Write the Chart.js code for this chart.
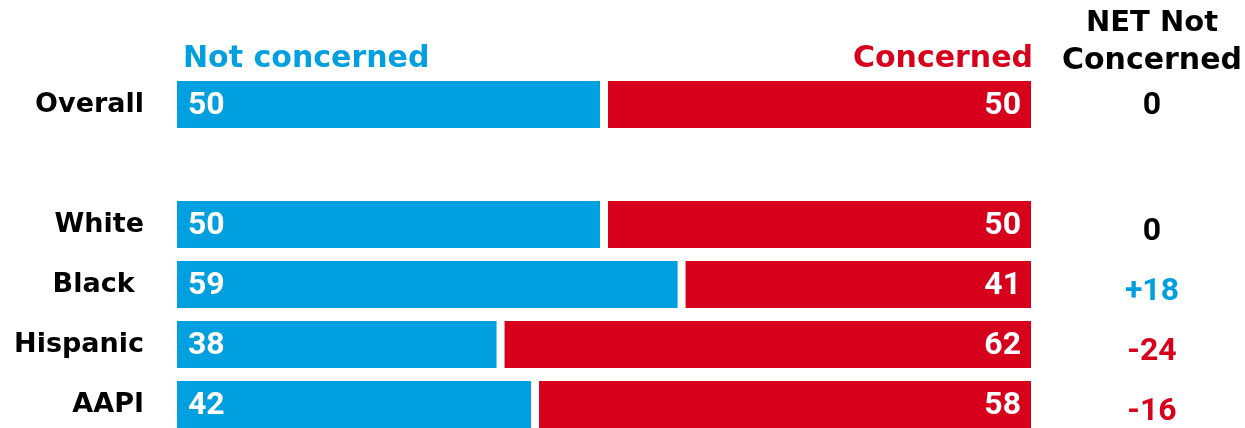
<!DOCTYPE html>
<html>
<head>
<meta charset="utf-8">
<script src="https://cdn.jsdelivr.net/npm/chart.js@4"></script>
<style>
  html, body { margin: 0; padding: 0; background: #fff; overflow: hidden; }
  canvas { display: block; }
</style>
</head>
<body>
<canvas id="chart" width="1245" height="436"></canvas>
<script>
// Survey groups (blank entry leaves a spacer row under "Overall")
const categories = ['Overall', '', 'White', 'Black ', 'Hispanic', 'AAPI'];
const notConcerned = [50, null, 50, 59, 38, 42];
const concerned    = [50, null, 50, 41, 62, 58];

const BLUE = '#009FDF';
const RED = '#D6001C';
const HEAD_FONT = '"DejaVu Sans", sans-serif';
const NUM_FONT = '"Roboto", "Open Sans", sans-serif';

// White numbers inside each bar segment
const barLabels = {
  id: 'barLabels',
  afterDatasetsDraw(chart) {
    const ctx = chart.ctx;
    ctx.save();
    ctx.fillStyle = '#fff';
    ctx.font = `700 32px ${NUM_FONT}`;
    ctx.textBaseline = 'middle';
    chart.data.datasets.forEach((ds, di) => {
      const meta = chart.getDatasetMeta(di);
      meta.data.forEach((bar, i) => {
        const v = ds.data[i];
        if (v == null) return;
        const left = Math.min(bar.x, bar.base);
        const right = Math.max(bar.x, bar.base);
        if (di === 0) {
          ctx.textAlign = 'left';
          ctx.fillText(String(v), left + 15, bar.y + 1);
        } else {
          ctx.textAlign = 'right';
          ctx.fillText(String(v), right - 14, bar.y + 1);
        }
      });
    });
    ctx.restore();
  }
};

// Column headers and the net (not concerned minus concerned) column
const headersAndNet = {
  id: 'headersAndNet',
  afterDraw(chart) {
    const ctx = chart.ctx;
    const area = chart.chartArea;
    const y = chart.scales.y;
    ctx.save();
    ctx.textBaseline = 'alphabetic';
    ctx.font = `700 30px ${HEAD_FONT}`;
    ctx.fillStyle = BLUE;
    ctx.textAlign = 'left';
    ctx.fillText('Not concerned', area.left + 10, 67);
    ctx.fillStyle = RED;
    ctx.textAlign = 'right';
    ctx.fillText('Concerned', area.right - 2, 67);

    const netX = 1152;
    ctx.fillStyle = '#000';
    ctx.textAlign = 'center';
    ctx.font = `700 29px ${HEAD_FONT}`;
    ctx.fillText('NET Not', netX, 31);
    ctx.font = `700 30px ${HEAD_FONT}`;
    ctx.fillText('Concerned', netX, 69);

    ctx.font = `700 32px ${NUM_FONT}`;
    ctx.textBaseline = 'middle';
    categories.forEach((c, i) => {
      const a = notConcerned[i], b = concerned[i];
      if (a == null || b == null) return;
      const net = a - b;
      const txt = net > 0 ? '+' + net : String(net);
      ctx.fillStyle = net > 0 ? BLUE : (net < 0 ? RED : '#000');
      const dy = i === 0 ? 1 : 7;
      ctx.fillText(txt, netX, y.getPixelForValue(i) + dy);
    });
    ctx.restore();
  }
};

new Chart(document.getElementById('chart'), {
  type: 'bar',
  data: {
    labels: categories,
    datasets: [
      {
        label: 'Not concerned',
        data: notConcerned,
        backgroundColor: BLUE,
        borderColor: '#fff',
        borderWidth: { left: 4, right: 4, top: 0, bottom: 0 },
        borderSkipped: false,
        categoryPercentage: 1,
        barPercentage: 0.78
      },
      {
        label: 'Concerned',
        data: concerned,
        backgroundColor: RED,
        borderColor: '#fff',
        borderWidth: { left: 4, right: 4, top: 0, bottom: 0 },
        borderSkipped: false,
        categoryPercentage: 1,
        barPercentage: 0.78
      }
    ]
  },
  options: {
    indexAxis: 'y',
    responsive: false,
    animation: false,
    layout: { padding: { left: 0, right: 210, top: 74.5, bottom: 1.5 } },
    plugins: { legend: { display: false }, tooltip: { enabled: false } },
    scales: {
      x: {
        stacked: true,
        min: 0,
        max: 100,
        display: false
      },
      y: {
        stacked: true,
        grid: { display: false, drawTicks: false },
        border: { display: false },
        afterFit(scale) {
          scale.width = 173;
          scale.paddingTop = 0;
          scale.paddingBottom = 0;
        },
        ticks: {
          padding: 29,
          color: '#000',
          font: { family: '"DejaVu Sans", sans-serif', weight: '700', size: 27 }
        }
      }
    }
  },
  plugins: [barLabels, headersAndNet]
});
</script>
</body>
</html>
